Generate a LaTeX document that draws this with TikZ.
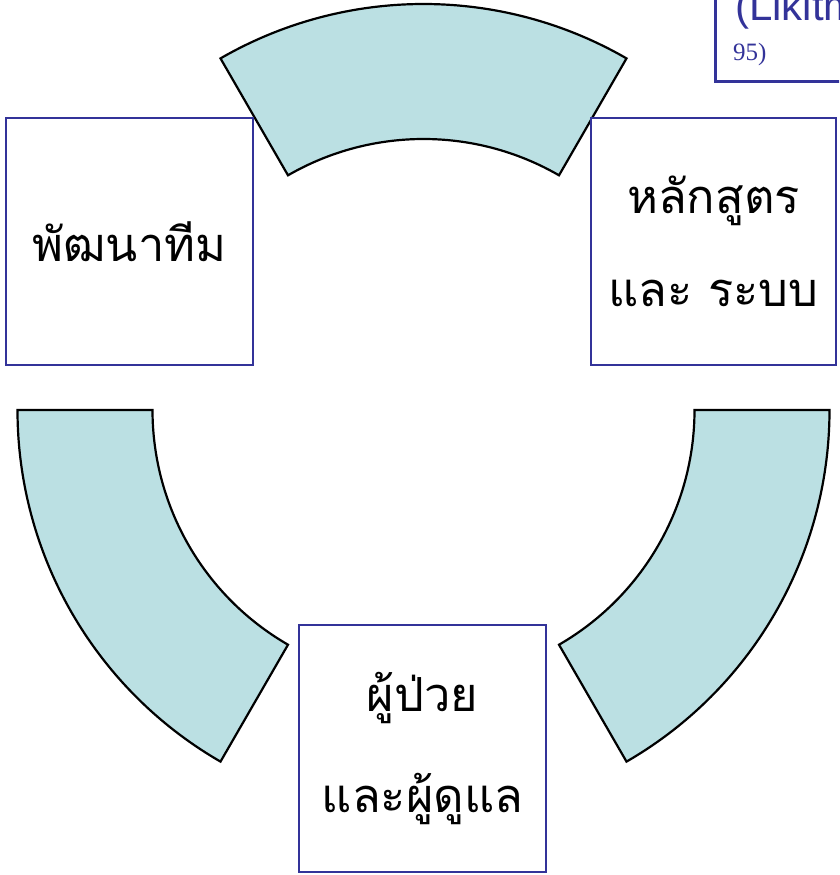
\documentclass[tikz,border=0pt]{standalone}
\usepackage{fontspec}
\newfontfamily\thaifont[Script=Thai]{Loma}
\newfontfamily\arialfont{Liberation Sans}
\newfontfamily\timesfont{Liberation Serif}
\definecolor{sectorfill}{HTML}{BBE0E3}
\definecolor{boxblue}{HTML}{333399}
\tikzset{
  sector/.style={draw=black, fill=sectorfill, line width=2.2pt, line join=miter},
  box/.style={draw=boxblue, line width=2.6pt, fill=white, inner sep=0pt, align=center,
    font=\thaifont\fontsize{47}{93}\selectfont},
}
\begin{document}
\begin{tikzpicture}[x=1pt,y=-1pt]
\useasboundingbox (0,0) rectangle (839,875);
\clip (0,0) rectangle (839,875);
\fill[white] (0,0) rectangle (839,875);
% reference box (top right, cut off)
\node[draw=boxblue, line width=2.6pt, minimum width=200, minimum height=120, anchor=south west, inner sep=0pt] (ref) at (714,83) {};
\node[anchor=base west, text=boxblue, font=\arialfont\fontsize{42}{42}\selectfont, inner sep=0pt] (reftxt) at (735,21) {(Likitm};
\node[anchor=base west, text=boxblue, font=\timesfont\fontsize{25}{25}\selectfont, inner sep=0pt] (refyr) at (733,60) {95)};
% sectors
\begin{scope}[shift={(423.5,410)}]
\draw[sector] (240:406) arc[start angle=240,end angle=300,radius=406] -- (300:271) arc[start angle=300,end angle=240,radius=271] -- cycle;
\draw[sector] (180:406) arc[start angle=180,end angle=120,radius=406] -- (120:271) arc[start angle=120,end angle=180,radius=271] -- cycle;
\draw[sector] (60:406) arc[start angle=60,end angle=0,radius=406] -- (0:271) arc[start angle=0,end angle=60,radius=271] -- cycle;
\end{scope}
% boxes
\node[box, minimum width=247, minimum height=247] (team) at (129.5,241.5) {พัฒนาทีม};
\node[box, minimum width=245, minimum height=247] (course) at (713.5,241.5) {หลักสูตร\\และ ระบบ};
\node[box, minimum width=247, minimum height=247, font=\thaifont\fontsize{47}{101}\selectfont] (patient) at (422.5,748.5) {ผู้ป่วย\\และผู้ดูแล};
\end{tikzpicture}
\end{document}
